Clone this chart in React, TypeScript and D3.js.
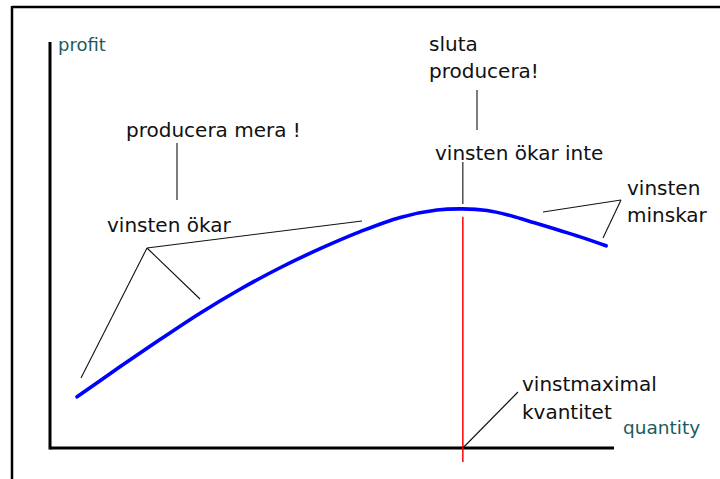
import React from "react";
import * as d3 from "d3";

// Profit curve (quantity 0–100, profit 0–100)
const quantity = [4.8, 12.4, 19.5, 26.6, 33.7, 40.8, 47.9, 55.0, 62.1, 68.6, 73.2, 77.5, 81.2, 85.1, 94.0, 98.6];
const profit = [12.6, 20.0, 26.7, 33.2, 39.1, 44.4, 49.1, 53.3, 56.8, 58.6, 58.9, 58.5, 57.4, 55.8, 52.0, 49.8];
const optimumQuantity = 73.2;
const axisLabels = ["profit", "quantity"];

const W = 720;
const H = 479;
const FONT = "'DejaVu Sans', sans-serif";

export default function App() {
  const x = d3.scaleLinear().domain([0, 100]).range([50, 614]);
  const y = d3.scaleLinear().domain([0, 100]).range([448, 42]);
  const pts: [number, number][] = quantity.map((q, i) => [q, profit[i]]);
  const line = d3
    .line<[number, number]>()
    .x((d) => x(d[0]))
    .y((d) => y(d[1]))
    .curve(d3.curveCatmullRom.alpha(0.5));

  const xo = x(optimumQuantity);
  const peakY = y(d3.max(profit) as number);

  const ann = { stroke: "#111", strokeWidth: 1.1 };
  const txt = { fontFamily: FONT, fontSize: 20, fill: "#111" };

  return (
    <svg
      width={W}
      height={H}
      style={{ position: "absolute", left: 0, top: 0, background: "#fff" }}
    >
      {/* frame */}
      <line x1={12} y1={7} x2={W + 5} y2={7} stroke="#000" strokeWidth={2.5} />
      <line x1={12} y1={6} x2={12} y2={H + 5} stroke="#000" strokeWidth={2.5} />

      {/* axes */}
      <line x1={x(0)} y1={y(100)} x2={x(0)} y2={y(0) + 1.5} stroke="#000" strokeWidth={3} />
      <line x1={x(0)} y1={y(0)} x2={x(100)} y2={y(0)} stroke="#000" strokeWidth={3} />
      <text x={58} y={51} fontFamily={FONT} fontSize={18} fill="#1d5c5c">
        {axisLabels[0]}
      </text>
      <text x={623} y={434} fontFamily={FONT} fontSize={18.5} fill="#1d5c5c">
        {axisLabels[1]}
      </text>

      {/* red optimum line */}
      <line x1={xo} y1={peakY + 8} x2={xo} y2={y(0) + 14} stroke="#ff0000" strokeWidth={1.5} />

      {/* profit curve */}
      <path d={line(pts) || ""} fill="none" stroke="#0000ff" strokeWidth={3.6} strokeLinecap="round" />

      {/* annotations */}
      <text x={126} y={137} {...txt}>producera mera !</text>
      <line x1={177} y1={143} x2={177} y2={200} {...ann} />
      <text x={107} y={232} {...txt}>vinsten ökar</text>
      <line x1={147} y1={248} x2={81} y2={378} {...ann} />
      <line x1={147} y1={248} x2={200} y2={299} {...ann} />
      <line x1={147} y1={248} x2={362} y2={221} {...ann} />

      <text x={429} y={51} {...txt}>sluta</text>
      <text x={429} y={78} {...txt}>producera!</text>
      <line x1={477} y1={90} x2={477} y2={130} {...ann} />
      <text x={435} y={160} {...txt}>vinsten ökar inte</text>
      <line x1={xo} y1={162} x2={xo} y2={204} {...ann} />

      <text x={627} y={195} {...txt}>vinsten</text>
      <text x={627} y={222} {...txt}>minskar</text>
      <line x1={543} y1={212} x2={621} y2={200} {...ann} />
      <line x1={621} y1={200} x2={603} y2={238} {...ann} />

      <text x={522} y={391} {...txt}>vinstmaximal</text>
      <text x={522} y={419} {...txt}>kvantitet</text>
      <line x1={xo} y1={y(0)} x2={518} y2={392} {...ann} />
    </svg>
  );
}
